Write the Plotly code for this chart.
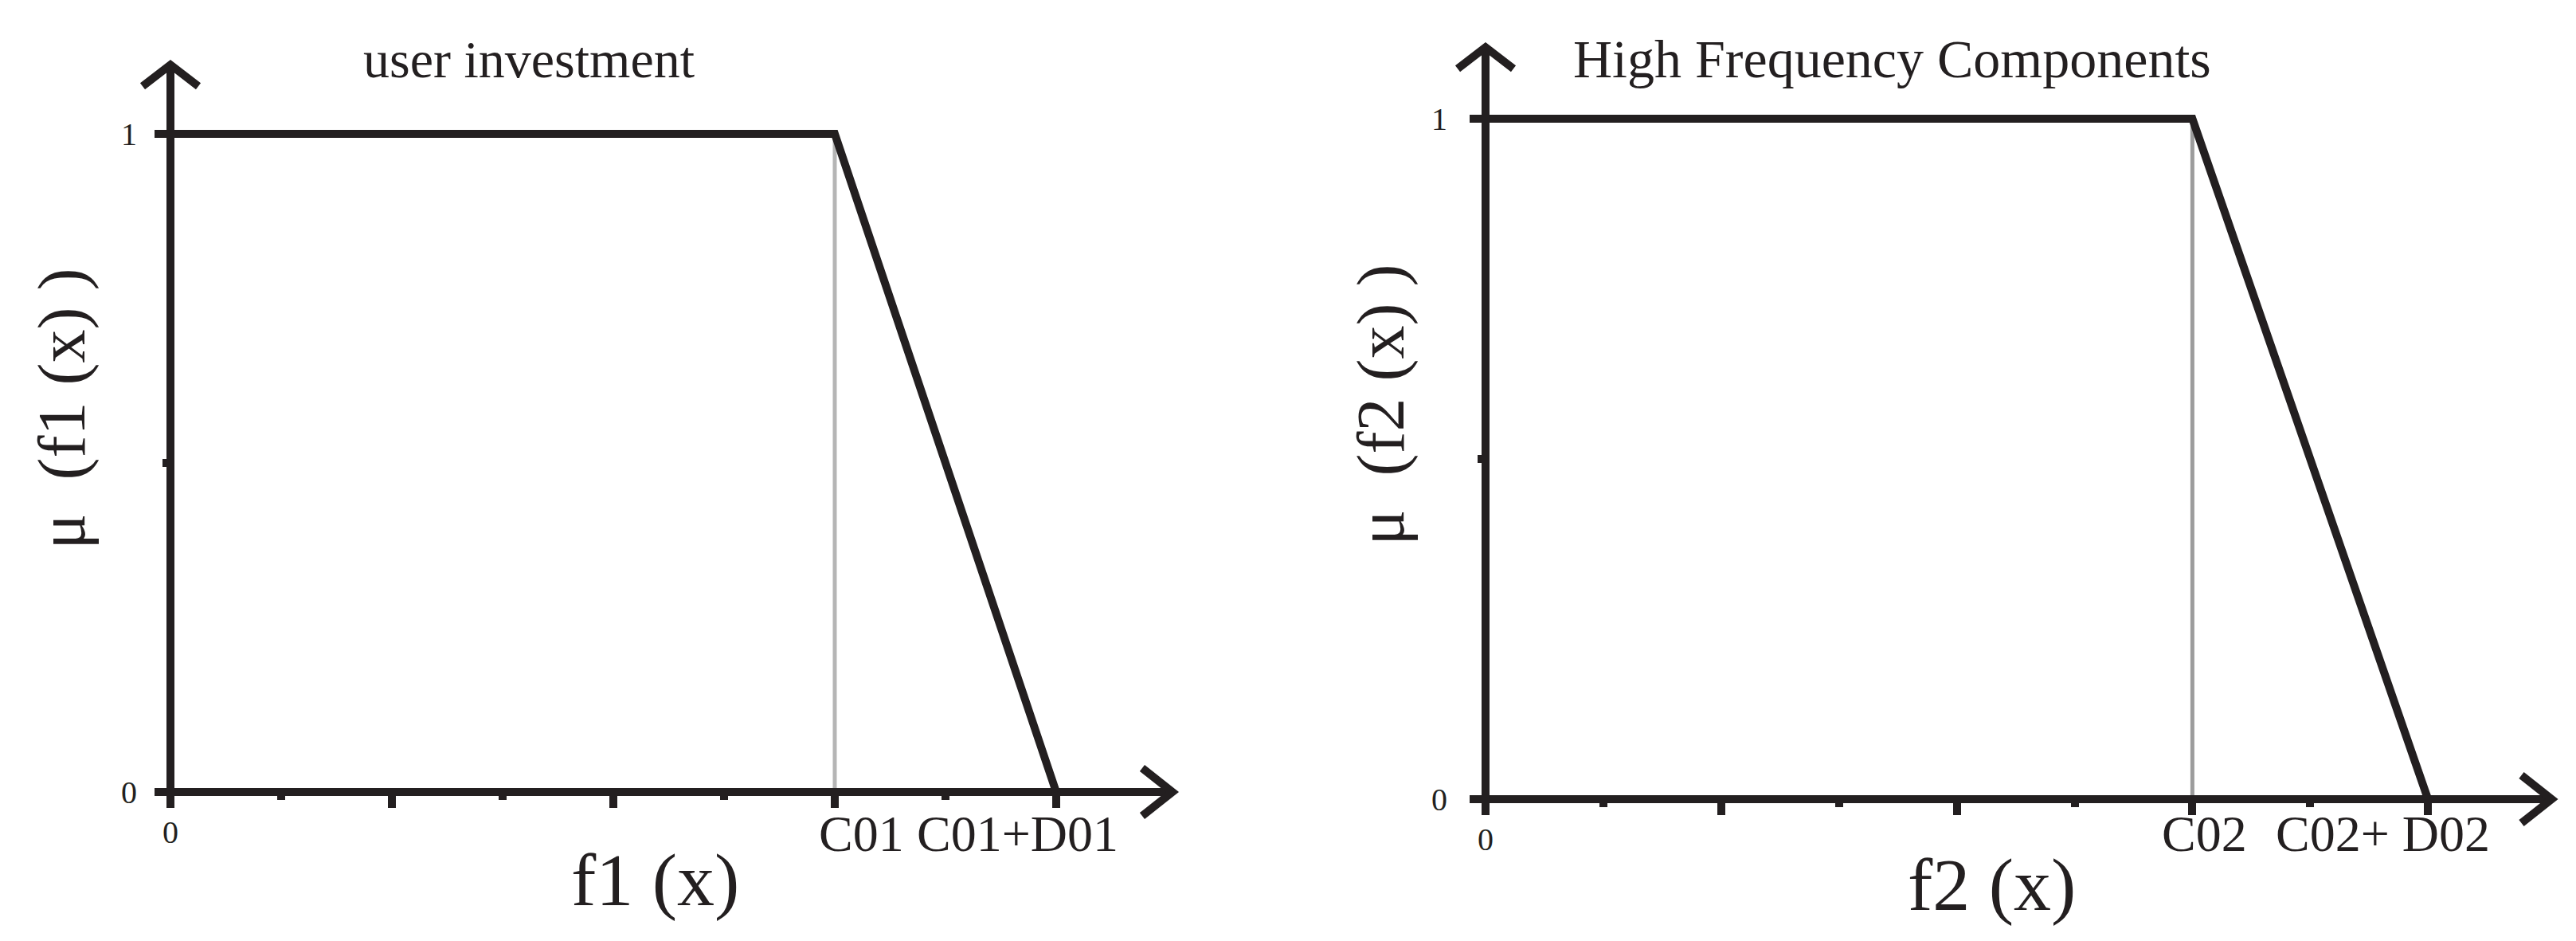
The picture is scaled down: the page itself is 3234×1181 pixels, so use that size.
import plotly.graph_objects as go

# ---------------- data ----------------
knots_f1 = [0, 6, 8]          # 0, C01, C01+D01
mu_f1 = [1, 1, 0]
knots_f2 = [0, 6, 8]          # 0, C02, C02+D02
mu_f2 = [1, 1, 0]
x_major_ticks = [0, 2, 4, 6, 8]
x_minor_ticks = [1, 3, 5, 7]
y_major_ticks = [0, 1]
y_major_text = ["0", "1"]
y_minor_ticks = [0.5]
x_tick_text_f1 = ["0", "C01", "C01+D01"]
x_tick_text_f2 = ["0", "C02", "C02+ D02"]
titles = ["user investment", "High Frequency Components"]
x_titles = ["f1 (x)", "f2 (x)"]
y_titles = ["μ\u00a0 (f1 (x) )", "μ\u00a0 (f2 (x) )"]
x_axis_end = 9.05
y_axis_end = 1.105

# ---------------- layout geometry (pixels) ----------------
W, H = 3234, 1181
BLACK = "#231f20"
FONT = "Liberation Serif, Noto Sans CJK SC, serif"

panels = [
    dict(knots=knots_f1, mu=mu_f1, labels=x_tick_text_f1, title=titles[0],
         xt=x_titles[0], yt=y_titles[0],
         ox=214, oy=994, ux=139.0, uy=826.0, xr=(-0.4, 9.3), yr=(-0.1, 1.15),
         gray="#b5b5b5", shifts=[0, 33, -49], lab_y=1046, zero_y=1044,
         title_xy=(664, 74), title_size=66, xt_xy=(715, 1104), yt_xy=(77, 692),
         standoff=14),
    dict(knots=knots_f2, mu=mu_f2, labels=x_tick_text_f2, title=titles[1],
         xt=x_titles[1], yt=y_titles[1],
         ox=1865, oy=1003, ux=147.9, uy=854.0, xr=(-0.4, 9.2), yr=(-0.1, 1.12),
         gray="#9c9c9c", shifts=[0, 15, -57], lab_y=1046, zero_y=1053,
         title_xy=(2375, 74), title_size=68, xt_xy=(2393, 1110), yt_xy=(1733, 686),
         standoff=20),
]

fig = go.Figure()
annotations = []

for i, p in enumerate(panels):
    sfx = "" if i == 0 else str(i + 1)
    xa, ya = "x" + sfx, "y" + sfx
    ox, oy, ux, uy = p["ox"], p["oy"], p["ux"], p["uy"]
    xdom = [(ox + ux * p["xr"][0]) / W, (ox + ux * p["xr"][1]) / W]
    ydom = [1 - (oy - uy * p["yr"][0]) / H, 1 - (oy - uy * p["yr"][1]) / H]

    k, m = p["knots"], p["mu"]
    # gray guide at C
    fig.add_trace(go.Scatter(x=[k[1], k[1]], y=[0, m[1]], mode="lines",
                             line=dict(color=p["gray"], width=5),
                             xaxis=xa, yaxis=ya, hoverinfo="skip"))
    # axes lines
    fig.add_trace(go.Scatter(x=[0, x_axis_end], y=[0, 0], mode="lines",
                             line=dict(color=BLACK, width=10),
                             xaxis=xa, yaxis=ya, hoverinfo="skip"))
    fig.add_trace(go.Scatter(x=[0, 0], y=[0, y_axis_end], mode="lines",
                             line=dict(color=BLACK, width=10),
                             xaxis=xa, yaxis=ya, hoverinfo="skip"))
    # arrow heads (chevrons) derived from the axis ends
    ax_dx, ax_dy = 38 / ux, 30 / uy
    fig.add_trace(go.Scatter(x=[x_axis_end - ax_dx, x_axis_end, x_axis_end - ax_dx],
                             y=[ax_dy, 0, -ax_dy], mode="lines",
                             line=dict(color=BLACK, width=10),
                             xaxis=xa, yaxis=ya, hoverinfo="skip"))
    ay_dx, ay_dy = 35 / ux, 27 / uy
    fig.add_trace(go.Scatter(x=[-ay_dx, 0, ay_dx],
                             y=[y_axis_end - ay_dy, y_axis_end, y_axis_end - ay_dy],
                             mode="lines", line=dict(color=BLACK, width=10),
                             xaxis=xa, yaxis=ya, hoverinfo="skip"))
    # membership function
    fig.add_trace(go.Scatter(x=k, y=m, mode="lines",
                             line=dict(color=BLACK, width=10),
                             xaxis=xa, yaxis=ya, hoverinfo="skip"))

    fig.layout["xaxis" + sfx] = dict(
        domain=xdom, range=list(p["xr"]), anchor="free", position=1 - oy / H,
        showgrid=False, zeroline=False, showline=False,
        tickmode="array", tickvals=x_major_ticks, ticks="outside",
        ticklen=19, tickwidth=10, tickcolor=BLACK, showticklabels=False,
        minor=dict(tickmode="array", tickvals=x_minor_ticks, ticks="outside",
                   ticklen=9, tickwidth=10, tickcolor=BLACK),
        fixedrange=True,
    )
    fig.layout["yaxis" + sfx] = dict(
        domain=ydom, range=list(p["yr"]), anchor="free", position=ox / W,
        showgrid=False, zeroline=False, showline=False,
        tickmode="array", tickvals=y_major_ticks, ticktext=y_major_text,
        ticks="outside", ticklen=20, tickwidth=10, tickcolor=BLACK,
        ticklabelstandoff=p["standoff"],
        tickfont=dict(family=FONT, size=40, color=BLACK),
        minor=dict(tickmode="array", tickvals=y_minor_ticks, ticks="outside",
                   ticklen=10, tickwidth=10, tickcolor=BLACK),
        fixedrange=True,
    )

    # x tick labels
    for j, (xv, txt) in enumerate(zip(x_major_ticks[:1] + k[1:], p["labels"])):
        small = (j == 0)
        annotations.append(dict(
            x=xv, y=1 - (p["zero_y"] if small else p["lab_y"]) / H,
            xref=xa, yref="paper", text=txt, showarrow=False,
            xanchor="center", yanchor="middle", xshift=p["shifts"][j],
            font=dict(family=FONT, size=40 if small else 64, color=BLACK)))
    # title
    annotations.append(dict(
        x=p["title_xy"][0] / W, y=1 - p["title_xy"][1] / H, xref="paper", yref="paper",
        text=p["title"], showarrow=False, xanchor="center", yanchor="middle",
        font=dict(family=FONT, size=p["title_size"], color=BLACK)))
    # x title
    annotations.append(dict(
        x=p["xt_xy"][0] / W, y=1 - p["xt_xy"][1] / H, xref="paper", yref="paper",
        text=p["xt"], showarrow=False, xanchor="left", yanchor="middle",
        font=dict(family=FONT, size=94, color=BLACK)))
    # y title
    annotations.append(dict(
        x=p["yt_xy"][0] / W, y=1 - p["yt_xy"][1] / H, xref="paper", yref="paper",
        text=p["yt"], showarrow=False, xanchor="center", yanchor="bottom",
        textangle=-90, font=dict(family=FONT, size=84, color=BLACK)))

fig.update_layout(
    width=W, height=H, margin=dict(l=0, r=0, t=0, b=0, pad=0),
    paper_bgcolor="white", plot_bgcolor="white", showlegend=False,
    annotations=annotations,
)

fig.write_html("out.html", config=dict(displayModeBar=False),
               post_script="document.body.style.margin='0';document.body.style.overflow='hidden';")
